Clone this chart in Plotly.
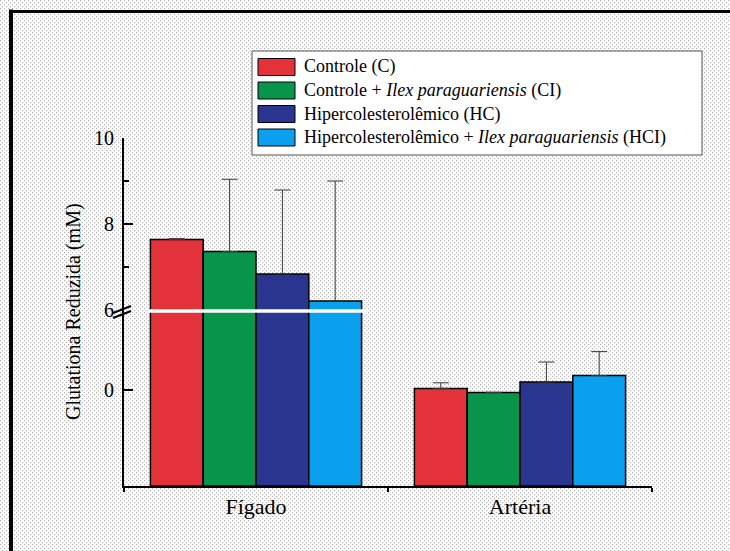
import base64
import plotly.graph_objects as go

# ---- data -------------------------------------------------------------
categories = ["Fígado", "Artéria"]
series_names = [
    "Controle (C)",
    "Controle + <i>Ilex paraguariensis</i> (CI)",
    "Hipercolesterolêmico (HC)",
    "Hipercolesterolêmico + <i>Ilex paraguariensis</i> (HCI)",
]
controle = [7.64, 0.02]
controle_ilex = [7.36, -0.03]
hiper = [6.84, 0.10]
hiper_ilex = [6.21, 0.18]

err_controle = [0.02, 0.07]
err_controle_ilex = [1.68, None]
err_hiper = [1.95, 0.25]
err_hiper_ilex = [2.79, 0.30]

upper_ticks = [6, 8, 10]
lower_ticks = [0]

values = [controle, controle_ilex, hiper, hiper_ilex]
errors = [err_controle, err_controle_ilex, err_hiper, err_hiper_ilex]
colors = ["#e4323a", "#08944a", "#2a3590", "#0ba0ee"]

# ---- geometry helpers ---------------------------------------------------
W, H = 730, 551
L, R, T, B = 124, 652, 138, 486
BREAK = 310
LOW_RANGE = [-1.2, 1.0]
UP_RANGE = [6, 10]


def px(x):
    return (x - L) / (R - L)


def py(y):
    return (B - y) / (B - T)


ybreak = py(BREAK)
FONT = "Liberation Serif, Times New Roman, serif"

fig = go.Figure()

for name, vals, errs, col in zip(series_names, values, errors, colors):
    err_up = [e if e is not None else float("nan") for e in errs]
    err_dn = [0 for _ in errs]
    # upper segment (6–10)
    fig.add_trace(go.Bar(
        x=categories, y=vals, name=name, yaxis="y2",
        marker=dict(color=col, line=dict(color="black", width=1.5)),
        error_y=dict(type="data", symmetric=False, array=err_up,
                     arrayminus=err_dn, color="#3a3a3a", thickness=1, width=8),
        showlegend=False,
    ))
    # lower segment, bars rising from the bottom of the axis
    fig.add_trace(go.Bar(
        x=categories, y=[v - LOW_RANGE[0] for v in vals], base=LOW_RANGE[0],
        name=name, yaxis="y",
        marker=dict(color=col, line=dict(color="black", width=1.5)),
        error_y=dict(type="data", symmetric=False, array=err_up,
                     arrayminus=err_dn, color="#3a3a3a", thickness=1, width=8),
        showlegend=False,
    ))

# stippled background
tile = (
    f'<svg xmlns="http://www.w3.org/2000/svg" width="{W}" height="{H}">'
    '<defs><pattern id="p" width="4" height="4" patternUnits="userSpaceOnUse">'
    '<rect width="4" height="4" fill="#ffffff"/>'
    '<rect x="0" y="0" width="1.2" height="1.2" fill="#b4b4b4"/>'
    '<rect x="2" y="2" width="1.2" height="1.2" fill="#b4b4b4"/>'
    '</pattern></defs>'
    f'<rect width="{W}" height="{H}" fill="url(#p)"/></svg>'
)
bg_uri = "data:image/svg+xml;base64," + base64.b64encode(tile.encode()).decode()

shapes = []
# frame edges (left and top)
shapes.append(dict(type="rect", xref="paper", yref="paper",
                   x0=px(9), x1=px(13), y0=py(H), y1=py(9.5),
                   fillcolor="black", line=dict(width=0)))
shapes.append(dict(type="rect", xref="paper", yref="paper",
                   x0=px(9), x1=px(W), y0=py(13), y1=py(10),
                   fillcolor="black", line=dict(width=0)))
# white gap across the broken bars
shapes.append(dict(type="line", xref="x", yref="paper",
                   x0=-0.41, x1=0.42, y0=ybreak - 0.003, y1=ybreak - 0.003,
                   line=dict(color="white", width=3.5)))
# axis break mark
for dy in (0, 5):
    shapes.append(dict(type="line", xref="paper", yref="paper",
                       x0=px(113), x1=px(131), y0=py(313 + dy), y1=py(306 + dy),
                       line=dict(color="black", width=2)))

# legend box
lg_x0, lg_x1, lg_y0, lg_y1 = 252, 702, 51, 155
shapes.append(dict(type="rect", xref="paper", yref="paper",
                   x0=px(lg_x0), x1=px(lg_x1), y0=py(lg_y1), y1=py(lg_y0),
                   fillcolor="white", line=dict(color="#555555", width=1)))
annotations = []
row_y = [67, 90.5, 114, 137.5]
for name, col, yy in zip(series_names, colors, row_y):
    shapes.append(dict(type="rect", xref="paper", yref="paper",
                       x0=px(258), x1=px(295), y0=py(yy + 8.5), y1=py(yy - 8.5),
                       fillcolor=col, line=dict(color="black", width=1)))
    annotations.append(dict(text=name, xref="paper", yref="paper",
                            x=px(302), y=py(yy), xanchor="left", yanchor="middle",
                            showarrow=False, font=dict(family=FONT, size=18, color="black")))

annotations.append(dict(text="Glutationa Reduzida (mM)", xref="paper", yref="paper",
                        x=px(73), y=py(312), textangle=-90, showarrow=False,
                        xanchor="center", yanchor="middle",
                        font=dict(family=FONT, size=20, color="black")))

fig.update_layout(
    width=W, height=H,
    margin=dict(l=L, r=W - R, t=T, b=H - B),
    paper_bgcolor="white", plot_bgcolor="rgba(0,0,0,0)",
    barmode="group", bargap=0.2, bargroupgap=0,
    font=dict(family=FONT, color="black"),
    showlegend=False,
    images=[dict(source=bg_uri, xref="paper", yref="paper",
                 x=px(0), y=py(0), sizex=W / (R - L), sizey=H / (B - T),
                 xanchor="left", yanchor="top", sizing="stretch", layer="below")],
    shapes=shapes, annotations=annotations,
    xaxis=dict(type="category", tickson="boundaries", ticks="outside",
               ticklen=4, tickwidth=2, tickcolor="black",
               showline=True, linewidth=2, linecolor="black",
               showgrid=False, zeroline=False, range=[-0.5, 1.5],
               tickfont=dict(family=FONT, size=22, color="black"), anchor="y"),
    yaxis=dict(domain=[0, ybreak], range=LOW_RANGE, tickvals=lower_ticks,
               ticks="inside", ticklen=9, tickwidth=2, tickcolor="black",
               showline=True, linewidth=2, linecolor="black",
               showgrid=False, zeroline=False, ticklabelstandoff=4,
               tickfont=dict(family=FONT, size=20, color="black")),
    yaxis2=dict(domain=[ybreak, 1], range=UP_RANGE, tickvals=upper_ticks,
                ticks="inside", ticklen=9, tickwidth=2, tickcolor="black",
                minor=dict(tickvals=[7, 9], ticks="inside", ticklen=5,
                           tickwidth=1.5, tickcolor="black"),
                showline=True, linewidth=2, linecolor="black",
                showgrid=False, zeroline=False, anchor="x", ticklabelstandoff=4,
                tickfont=dict(family=FONT, size=20, color="black")),
)

# keep the page exactly the size of the figure, without scrollbars
page_js = (
    "document.documentElement.style.overflow='hidden';"
    "document.body.style.overflow='hidden';"
    "document.body.style.margin='0';"
)
fig.write_html("out.html", config={"displayModeBar": False}, post_script=page_js)
